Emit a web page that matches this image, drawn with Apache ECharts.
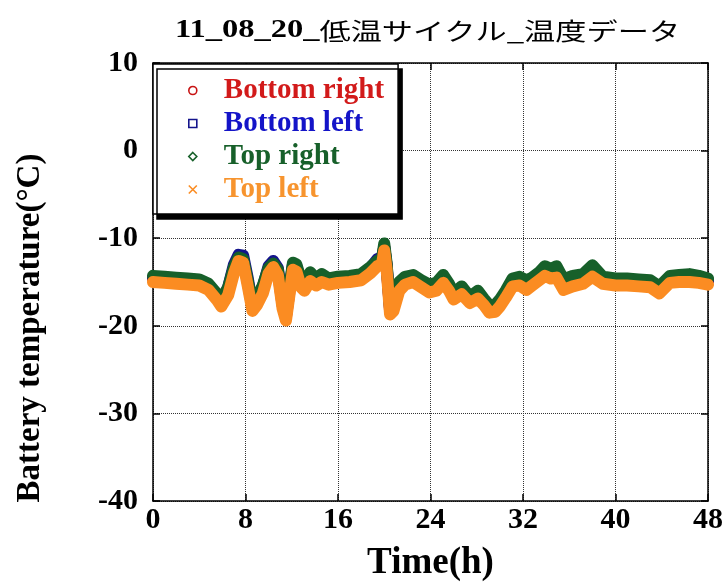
<!DOCTYPE html>
<html>
<head>
<meta charset="utf-8">
<script src="https://cdn.jsdelivr.net/npm/echarts@6/dist/echarts.min.js"></script>
<style>
  html, body { margin: 0; padding: 0; background: #fff; }
  #chart { width: 728px; height: 587px; }
</style>
</head>
<body>
<div id="chart"></div>
<script>
// Elapsed time of each reading (hours)
const timeH = [0, 1, 2, 3, 4, 4.8, 5.5, 5.9, 6.5, 7.0,
  7.4, 7.8, 8.2, 8.6, 9.0, 9.5, 10.0, 10.4, 10.8, 11.2,
  11.5, 11.8, 12.1, 12.4, 12.8, 13.1, 13.6, 14.1, 14.6, 15.2,
  16, 17, 18, 18.8, 19.4, 19.8, 20.0, 20.2, 20.5, 20.8,
  21.3, 21.8, 22.5, 23.2, 23.9, 24.5, 25.1, 25.6, 26.0, 26.7,
  27.4, 28.1, 28.6, 29.1, 29.6, 30.0, 30.5, 31.1, 31.7, 32.3,
  32.8, 33.4, 33.9, 34.4, 34.9, 35.5, 36.3, 37.2, 38.0, 38.9,
  40, 41, 42, 43, 43.8, 44.7, 45.5, 46.4, 47.2, 48];

// Battery temperatures (°C) at the four sensor positions
const bottomRight = [-14.6, -14.7, -14.8, -14.9, -15.0, -15.5, -16.6, -17.4, -16.1, -13.6,
  -12.3, -12.4, -15.1, -17.9, -17.2, -15.9, -13.6, -12.9, -13.8, -17.6,
  -19.0, -16.1, -13.2, -13.4, -15.2, -15.6, -14.5, -15.0, -14.6, -14.9,
  -14.7, -14.6, -14.4, -13.6, -12.8, -12.6, -11.0, -13.1, -18.3, -17.9,
  -15.6, -14.9, -14.6, -15.2, -15.8, -15.6, -14.7, -15.6, -16.6, -16.0,
  -17.0, -16.5, -17.2, -18.1, -18.0, -17.4, -16.4, -15.1, -15.0, -15.5,
  -15.0, -14.4, -13.9, -14.2, -14.1, -15.5, -15.1, -14.8, -14.0, -14.8,
  -15.0, -15.0, -15.1, -15.2, -15.9, -14.7, -14.6, -14.6, -14.7, -14.9];

const bottomLeft = [-14.5, -14.6, -14.7, -14.8, -14.9, -15.4, -16.5, -17.3, -15.6, -13.0,
  -11.9, -12.0, -14.6, -17.6, -16.9, -15.5, -13.2, -12.6, -13.4, -17.3,
  -18.8, -15.8, -13.0, -13.2, -15.0, -15.3, -14.2, -14.8, -14.3, -14.8,
  -14.6, -14.5, -14.3, -13.4, -12.4, -12.2, -11.0, -13.0, -18.1, -17.6,
  -15.3, -14.6, -14.4, -15.0, -15.5, -15.3, -14.4, -15.4, -16.5, -15.7,
  -16.9, -16.2, -17.1, -17.9, -17.8, -17.2, -16.2, -14.8, -14.6, -15.0,
  -14.7, -14.1, -13.4, -13.7, -13.4, -14.9, -14.5, -14.3, -13.3, -14.6,
  -14.8, -14.8, -14.9, -15.0, -15.7, -14.5, -14.4, -14.3, -14.5, -14.8];

const topRight = [-14.3, -14.4, -14.5, -14.6, -14.7, -15.2, -16.3, -17.1, -15.6, -13.3,
  -12.2, -12.4, -14.9, -17.6, -16.7, -15.4, -13.4, -12.9, -13.6, -17.2,
  -18.6, -15.6, -12.8, -13.0, -14.8, -15.0, -13.9, -14.6, -14.1, -14.6,
  -14.4, -14.3, -14.1, -13.3, -12.6, -12.4, -10.6, -12.8, -17.9, -17.4,
  -15.0, -14.4, -14.2, -14.8, -15.3, -15.1, -14.2, -15.2, -16.3, -15.5,
  -16.7, -16.0, -16.9, -17.7, -17.6, -17.0, -16.0, -14.6, -14.4, -14.8,
  -14.5, -13.9, -13.2, -13.5, -13.2, -14.7, -14.3, -14.1, -13.1, -14.4,
  -14.6, -14.6, -14.7, -14.8, -15.5, -14.3, -14.2, -14.1, -14.3, -14.6];

const topLeft = [-15.0, -15.1, -15.2, -15.3, -15.4, -15.9, -17.0, -17.8, -16.5, -14.0,
  -12.6, -12.8, -15.5, -18.3, -17.6, -16.3, -14.0, -13.3, -14.2, -18.0,
  -19.4, -16.5, -13.6, -13.8, -15.6, -16.0, -14.9, -15.4, -15.0, -15.3,
  -15.1, -15.0, -14.8, -14.0, -13.2, -13.0, -11.4, -13.5, -18.7, -18.3,
  -16.0, -15.3, -15.0, -15.6, -16.2, -16.0, -15.1, -16.0, -17.0, -16.4,
  -17.4, -16.9, -17.6, -18.5, -18.4, -17.8, -16.8, -15.5, -15.4, -15.9,
  -15.4, -14.8, -14.3, -14.6, -14.5, -15.9, -15.5, -15.2, -14.4, -15.2,
  -15.4, -15.4, -15.5, -15.6, -16.3, -15.1, -15.0, -15.0, -15.1, -15.3];

const seriesNames = ['Bottom right', 'Bottom left', 'Top right', 'Top left'];
const seriesColors = ['#c81414', '#14148c', '#17602a', '#fb8c22'];
const legendTextColors = ['#d21a1a', '#1414c8', '#17602a', '#f7942e'];
const legendIcons = [
  'circle',
  'path://M0,0L10,0L10,10L0,10Z',
  'path://M5,0L10,5L5,10L0,5Z',
  'path://M0,0L10,10M10,0L0,10'
];
const xTicks = { min: 0, max: 48, step: 8 };
const yTicks = { min: -40, max: 10, step: 10 };

const serif = "'Liberation Serif', 'Times New Roman', serif";
const valueSets = [bottomRight, bottomLeft, topRight, topLeft];

const chart = echarts.init(document.getElementById('chart'), null, { renderer: 'canvas' });

const axisBase = {
  type: 'value',
  axisLine: { show: true, onZero: false, lineStyle: { color: '#000', width: 1.5 } },
  axisTick: { show: true, inside: true, length: 7, lineStyle: { color: '#000', width: 1.5 } }
};

chart.setOption({
  animation: false,
  backgroundColor: '#fff',
  grid: { left: 153, right: 20, top: 63, bottom: 82, containLabel: false },
  graphic: [
    {
      type: 'text',
      x: 175, y: 18,
      scaleX: 1.3, scaleY: 1,
      z: 10,
      style: {
        text: '{a|11_08_20_}{b|低温サイクル_温度データ}',
        rich: {
          a: { fontFamily: serif, fontWeight: 'bold', fontSize: 25, fill: '#000' },
          b: { fontFamily: "'Noto Sans CJK JP', sans-serif", fontWeight: 'normal', fontSize: 24, fill: '#000' }
        }
      }
    },
    {
      type: 'text',
      x: 30, y: 328,
      rotation: Math.PI / 2,
      z: 10,
      style: {
        text: 'Battery temperature(°C)',
        align: 'center', verticalAlign: 'middle',
        fontFamily: serif, fontWeight: 'bold', fontSize: 33, fill: '#000'
      }
    }
  ],
  legend: {
    orient: 'vertical',
    left: 153, top: 64,
    padding: [12, 14, 10, 35],
    itemWidth: 52, itemHeight: 8,
    itemGap: 4,
    backgroundColor: '#fff',
    borderColor: '#000', borderWidth: 1.5,
    shadowColor: '#000', shadowBlur: 0, shadowOffsetX: 4, shadowOffsetY: 5,
    selectedMode: false,
    textStyle: { fontFamily: serif, fontWeight: 'bold', fontSize: 29 },
    data: seriesNames.map((n, i) => ({
      name: n,
      icon: legendIcons[i],
      itemStyle: { color: '#fff', borderColor: seriesColors[i], borderWidth: 1.6 },
      textStyle: { color: legendTextColors[i] }
    }))
  },
  xAxis: [
    Object.assign({}, axisBase, {
      position: 'bottom',
      min: xTicks.min, max: xTicks.max, interval: xTicks.step,
      name: 'Time(h)', nameLocation: 'middle', nameGap: 44,
      nameTextStyle: { fontFamily: serif, fontWeight: 'bold', fontSize: 37, color: '#000' },
      axisLabel: { fontFamily: serif, fontWeight: 'bold', fontSize: 30, color: '#000', margin: 4 },
      splitLine: { show: true, lineStyle: { color: '#333', type: 'dotted', width: 1 } }
    }),
    Object.assign({}, axisBase, {
      position: 'top',
      min: xTicks.min, max: xTicks.max, interval: xTicks.step,
      axisLabel: { show: false },
      splitLine: { show: false }
    })
  ],
  yAxis: [
    Object.assign({}, axisBase, {
      position: 'left',
      min: yTicks.min, max: yTicks.max, interval: yTicks.step,
      axisLabel: { fontFamily: serif, fontWeight: 'bold', fontSize: 30, color: '#000', margin: 15 },
      splitLine: { show: true, lineStyle: { color: '#333', type: 'dotted', width: 1 } }
    }),
    Object.assign({}, axisBase, {
      position: 'right',
      min: yTicks.min, max: yTicks.max, interval: yTicks.step,
      axisLabel: { show: false },
      splitLine: { show: false }
    })
  ],
  series: seriesNames.map((n, i) => ({
    name: n,
    type: 'line',
    xAxisIndex: 0,
    yAxisIndex: 0,
    showSymbol: false,
    symbol: 'none',
    smooth: false,
    lineStyle: { color: seriesColors[i], width: 12, join: 'round', cap: 'round' },
    itemStyle: { color: seriesColors[i] },
    data: timeH.map((t, k) => [t, valueSets[i][k]])
  }))
});
</script>
</body>
</html>
